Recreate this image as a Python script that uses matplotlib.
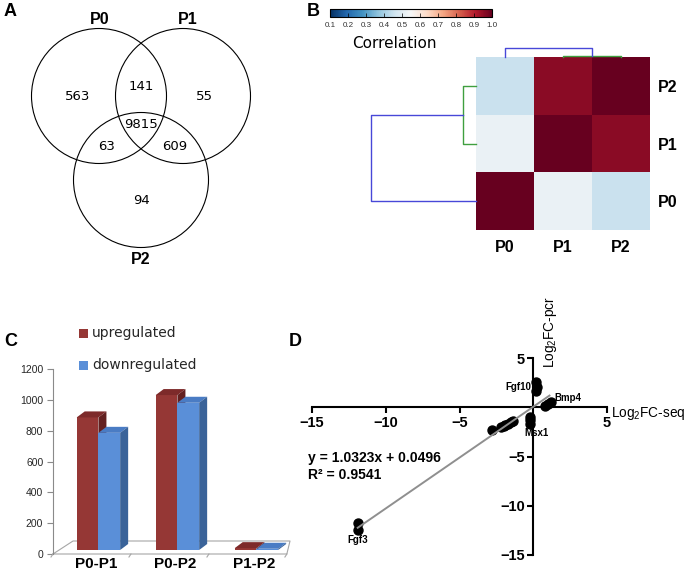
import numpy as np
import matplotlib
matplotlib.use("Agg")
import matplotlib.pyplot as plt
from matplotlib.patches import Circle, Polygon, Rectangle

plt.rcParams['font.family'] = ['Liberation Sans', 'DejaVu Sans']
plt.rcParams['mathtext.fontset'] = 'custom'
plt.rcParams['mathtext.rm'] = 'Liberation Sans'

W, H = 690, 574

# ---- A: venn counts ----
venn_names = ["P0", "P1", "P2"]
venn_regions = ["100", "110", "010", "111", "101", "011", "001"]
venn_counts = [563, 141, 55, 9815, 63, 609, 94]

# ---- B: correlation between samples ----
corr_labels = ["P0", "P1", "P2"]
corr_matrix = np.array([[1.00, 0.52, 0.45],
                        [0.52, 1.00, 0.955],
                        [0.45, 0.955, 1.00]])
link_pair = 0.07   # P1 + P2 merge
link_root = 0.56   # P0 joins

# ---- C: differentially expressed genes ----
deg_groups = ["P0-P1", "P0-P2", "P1-P2"]
deg_up = [860, 1005, 12]
deg_down = [760, 955, 8]

# ---- D: qPCR vs RNA-seq fold change ----
fc_seq = [0.2, 0.25, 0.2, 0.8, 1.0, 1.2, -0.25, -0.25, -0.25,
          -2.8, -2.2, -2.0, -1.9, -1.7, -1.5, -1.4, -11.9, -11.9]
fc_pcr = [2.6, 2.1, 1.6, 0.1, 0.3, 0.5, -1.0, -1.3, -1.7,
          -2.3, -2.0, -1.9, -1.8, -1.7, -1.5, -1.4, -11.8, -12.5]
gene_names = ["Fgf10", "Bmp4", "Msx1", "Fgf3"]
fit_slope, fit_icpt, fit_r2 = 1.0323, 0.0496, 0.9541

fig = plt.figure(figsize=(W / 100, H / 100), dpi=100)


def px_axes(x0, y0, x1, y1):
    return fig.add_axes([x0 / W, 1 - y1 / H, (x1 - x0) / W, (y1 - y0) / H])


ov = fig.add_axes([0, 0, 1, 1])
ov.set_xlim(0, W)
ov.set_ylim(H, 0)
ov.axis('off')

# panel letters
for letter, (lx, ly) in zip("ABCD", [(4, 11), (307, 11), (4, 341), (289, 341)]):
    ov.text(lx, ly, letter, fontsize=13, fontweight='bold', ha='left', va='center')

# ---- A ----
for cx, cy in [(99, 96), (183, 96), (141, 180)]:
    ov.add_patch(Circle((cx, cy), 67.5, fill=False, lw=0.8, ec='black'))
for name, (tx, ty) in zip(venn_names, [(100, 19), (188, 19), (141, 260)]):
    ov.text(tx, ty, name, fontsize=11.5, fontweight='bold', ha='center', va='center')
region_xy = {"100": (78, 96), "110": (141, 87), "010": (204, 96), "111": (141, 125),
             "101": (107, 146), "011": (175, 146), "001": (141, 201)}
for reg, cnt in zip(venn_regions, venn_counts):
    tx, ty = region_xy[reg]
    ov.text(tx, ty, str(cnt), fontsize=9.5, family='DejaVu Sans', ha='center', va='center')

# ---- B ----
hm = px_axes(476, 57, 650, 230)
mesh = hm.pcolormesh(corr_matrix, cmap='RdBu_r', vmin=0.1, vmax=1.0)
hm.set_xlim(0, 3)
hm.set_ylim(0, 3)
hm.set_xticks(np.arange(3) + 0.5)
hm.set_xticklabels(corr_labels, fontsize=11.5, fontweight='bold')
hm.set_yticks(np.arange(3) + 0.5)
hm.set_yticklabels(corr_labels, fontsize=11.5, fontweight='bold')
hm.yaxis.tick_right()
hm.tick_params(axis='x', length=0, pad=7)
hm.tick_params(axis='y', length=0, pad=6)
for sp in hm.spines.values():
    sp.set_visible(False)

cax = px_axes(330, 9, 492, 17)
cb = fig.colorbar(mesh, cax=cax, orientation='horizontal', ticks=np.arange(0.1, 1.01, 0.1))
cb.ax.set_xticklabels(['%.1f' % t for t in np.arange(0.1, 1.01, 0.1)])
cb.ax.tick_params(labelsize=5.8, direction='in', length=3, width=0.5, pad=3.5, labelcolor='#333333')
cb.outline.set_linewidth(0.8)
ov.text(394, 43, "Correlation", fontsize=11, family='DejaVu Sans', ha='center', va='center')

blue_c, green_c = '#4848d8', '#3f9f3f'
td = px_axes(476, 44, 650, 57)
td.set_xlim(0, 3)
td.set_ylim(0, link_root * 13 / 9)
td.plot([1.5, 1.5, 2.5, 2.5], [0, link_pair, link_pair, 0], color=green_c, lw=1, clip_on=False)
td.plot([0.5, 0.5, 2.0, 2.0], [0, link_root, link_root, link_pair], color=blue_c, lw=1, clip_on=False)
td.axis('off')

ld = px_axes(366, 57, 476, 230)
ld.set_ylim(0, 3)
ld.set_xlim(link_root * 110 / 105, 0)
ld.plot([0, link_pair, link_pair, 0], [2.5, 2.5, 1.5, 1.5], color=green_c, lw=1, clip_on=False)
ld.plot([0, link_root, link_root, link_pair], [0.5, 0.5, 2.0, 2.0], color=blue_c, lw=1, clip_on=False)
ld.axis('off')

# ---- C ----
bx = px_axes(53, 369, 290, 554)
bx.set_xlim(0, 3)
bx.set_ylim(0, 1200)
kx = 3 / 237.0
ky = 1200 / 185.0
for side in ['top', 'right', 'bottom']:
    bx.spines[side].set_visible(False)
bx.spines['left'].set_color('#8a8a8a')
bx.spines['left'].set_linewidth(0.8)
bx.set_yticks(np.arange(0, 1201, 200))
bx.tick_params(axis='y', length=4, width=0.8, color='#8a8a8a', labelsize=7.5, labelcolor='#262626', pad=3)
bx.set_xticks(np.arange(3) + 0.55)
bx.set_xticklabels(deg_groups, fontsize=11, fontweight='bold')
bx.tick_params(axis='x', length=0, pad=2)
bx.patch.set_visible(False)

floor_c = '#a6a6a6'
bx.plot([0, 2.96, 3.0, 20 * kx, 0], [0, 0, 13 * ky, 13 * ky, 0], color=floor_c, lw=0.8, clip_on=False)
for t in range(4):
    bx.plot([t * 0.987, t * 0.987 - 2 * kx], [0, -3 * ky], color=floor_c, lw=0.8, clip_on=False)

base = 4 * ky
dx, dy = 8 * kx, 6 * ky
bw = 0.275
series = [(deg_up, 0.30, ('#953735', '#7d2a2a', '#632020')),
          (deg_down, 0.575, ('#5a8fd8', '#4a7cc4', '#3a6399'))]
for i in range(len(deg_groups)):
    for vals, off, (c_front, c_top, c_side) in series:
        xl = i + off
        xr = xl + bw
        top = base + vals[i]
        bx.bar(xl, vals[i], width=bw, bottom=base, align='edge', color=c_front, lw=0, zorder=3)
        bx.add_patch(Polygon([(xl, top), (xr, top), (xr + dx, top + dy), (xl + dx, top + dy)],
                             closed=True, fc=c_top, lw=0, zorder=3, clip_on=False))
        bx.add_patch(Polygon([(xr, base), (xr, top), (xr + dx, top + dy), (xr + dx, base + dy)],
                             closed=True, fc=c_side, lw=0, zorder=3, clip_on=False))

ov.add_patch(Rectangle((79, 329), 9, 9, fc='#953735', lw=0))
ov.text(92, 333.5, "upregulated", fontsize=10, family='DejaVu Sans', color='#262626', va='center')
ov.add_patch(Rectangle((79, 361), 9, 9, fc='#5a8fd8', lw=0))
ov.text(92, 365.5, "downregulated", fontsize=10, family='DejaVu Sans', color='#262626', va='center')

# ---- D ----
sc = px_axes(312, 358, 607, 555)
sc.set_xlim(-15, 5)
sc.set_ylim(-15, 5)
sc.patch.set_visible(False)
sc.spines['left'].set_position(('data', 0))
sc.spines['bottom'].set_position(('data', 0))
sc.spines['top'].set_visible(False)
sc.spines['right'].set_visible(False)
for side in ['left', 'bottom']:
    sc.spines[side].set_linewidth(1.5)
sc.set_xticks([-15, -10, -5, 5])
sc.set_yticks([-15, -10, -5, 5])
sc.tick_params(direction='out', length=4, width=1.5, labelsize=10.5, pad=2)
for lbl in sc.get_xticklabels() + sc.get_yticklabels():
    lbl.set_fontweight('bold')

sc.scatter(fc_seq, fc_pcr, s=42, color='black', zorder=3, clip_on=False)
fit_x = np.array([min(fc_seq), 1.1])
sc.plot(fit_x, fit_slope * fit_x + fit_icpt, color='#8f8f8f', lw=1.4, zorder=4)

for name, (tx, ty, ha) in zip(gene_names, [(-0.15, 2.1, 'right'), (1.45, 0.9, 'left'),
                                            (0.2, -2.65, 'center'), (-11.9, -13.5, 'center')]):
    sc.text(tx, ty, name, fontsize=7, fontweight='bold', ha=ha, va='center')

sc.text(-15.3, -5.2, "y = %.4fx + %.4f" % (fit_slope, fit_icpt), fontsize=10, fontweight='bold', va='center')
sc.text(-15.3, -6.9, "R\u00b2 = %.4f" % fit_r2, fontsize=10, fontweight='bold', va='center')
sc.text(5.3, -1.0, r'Log$_\mathregular{2}$FC-seq', fontsize=9.8, ha='left', va='baseline')
sc.text(1.15, 4.0, r'Log$_\mathregular{2}$FC-pcr', fontsize=9.8, rotation=90, ha='center', va='bottom')

fig.savefig("out.png", dpi=100)
